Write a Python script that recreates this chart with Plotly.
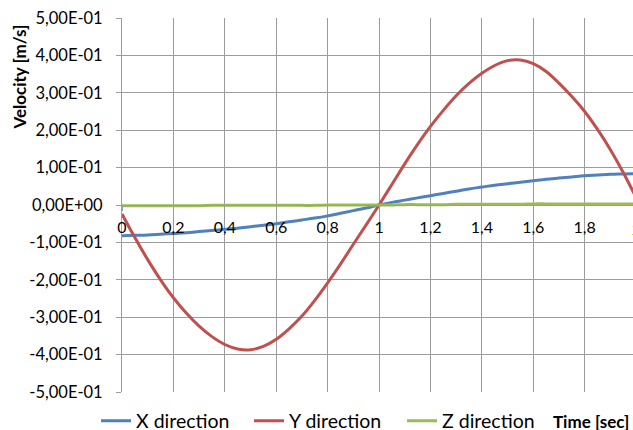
import plotly.graph_objects as go

time_s = [0.0, 0.05, 0.1, 0.15, 0.2, 0.25, 0.3, 0.35, 0.4, 0.45, 0.5, 0.55, 0.6, 0.65,
          0.7, 0.75, 0.8, 0.85, 0.9, 0.95, 1.0, 1.05, 1.1, 1.15, 1.2, 1.25, 1.3, 1.35,
          1.4, 1.45, 1.5, 1.55, 1.6, 1.65, 1.7, 1.75, 1.8, 1.85, 1.9, 1.95, 2.0]
x_dir = [-0.082, -0.081, -0.080, -0.078, -0.076, -0.074, -0.071, -0.068, -0.065, -0.062,
         -0.058, -0.054, -0.050, -0.045, -0.040, -0.035, -0.029, -0.022, -0.015, -0.008,
         0.000, 0.007, 0.013, 0.019, 0.025, 0.031, 0.037, 0.043, 0.048, 0.053,
         0.057, 0.061, 0.065, 0.069, 0.072, 0.075, 0.078, 0.080, 0.082, 0.083, 0.084]
y_dir = [-0.024, -0.087, -0.146, -0.200, -0.248, -0.289, -0.324, -0.352, -0.373, -0.385,
         -0.387, -0.378, -0.359, -0.331, -0.297, -0.255, -0.208, -0.158, -0.105, -0.053,
         0.000, 0.055, 0.110, 0.162, 0.210, 0.253, 0.292, 0.325, 0.352, 0.373,
         0.386, 0.388, 0.378, 0.357, 0.326, 0.290, 0.250, 0.202, 0.148, 0.087, 0.020]
z_dir = [-0.002, -0.002, -0.002, -0.002, -0.002, -0.002, -0.002, -0.001, -0.001, -0.001,
         -0.001, -0.001, -0.001, -0.001, -0.001, -0.001, 0.000, 0.000, 0.000, 0.000,
         0.000, 0.000, 0.001, 0.001, 0.001, 0.001, 0.002, 0.002, 0.002, 0.002,
         0.002, 0.002, 0.003, 0.003, 0.003, 0.003, 0.003, 0.003, 0.003, 0.003, 0.003]

y_tickvals = [0.5, 0.4, 0.3, 0.2, 0.1, 0.0, -0.1, -0.2, -0.3, -0.4, -0.5]
y_ticktext = ["5,00E-01", "4,00E-01", "3,00E-01", "2,00E-01", "1,00E-01", "0,00E+00",
              "-1,00E-01", "-2,00E-01", "-3,00E-01", "-4,00E-01", "-5,00E-01"]
x_tickvals = [0.0, 0.2, 0.4, 0.6, 0.8, 1.0, 1.2, 1.4, 1.6, 1.8]
x_ticktext = ["0", "0,2", "0,4", "0,6", "0,8", "1", "1,2", "1,4", "1,6", "1,8"]
x_last_tick = 2.0
x_last_label = "2"

series = [("X direction", x_dir, "#4f81bd"),
          ("Y direction", y_dir, "#c0504d"),
          ("Z direction", z_dir, "#9bbb59")]

FONT = "Lato"
GRID = "#9c9c9c"
PL, PT, PB, W, H = 122, 18, 392, 633, 430
PW, PH = W - PL, PB - PT
X_MAX = 1.988  # visible part of the 0..2 axis (right edge cut by the window)

fig = go.Figure()
for name, vals, col in series:
    fig.add_trace(go.Scatter(x=time_s, y=vals, name=name, mode="lines",
                             line=dict(color=col, width=3, shape="spline", smoothing=1.0)))

fig.update_layout(
    width=W, height=H,
    margin=dict(l=PL, r=0, t=PT, b=H - PB, autoexpand=False),
    paper_bgcolor="white", plot_bgcolor="white",
    font=dict(family=FONT, size=16, color="#000000"),
    showlegend=True,
    legend=dict(orientation="h", x=(96 - PL) / PW, xanchor="left",
                y=-29 / PH, yanchor="middle",
                font=dict(family=FONT, size=19.5, color="#000000"),
                entrywidth=108, itemwidth=30, bgcolor="rgba(0,0,0,0)"),
    xaxis=dict(range=[0, X_MAX], tickvals=x_tickvals, ticktext=x_ticktext,
               showgrid=True, gridcolor=GRID, gridwidth=1,
               showline=True, linecolor=GRID, linewidth=1,
               anchor="free", position=0.5, zeroline=False,
               ticks="outside", ticklen=5, tickcolor=GRID,
               tickfont=dict(family=FONT, size=16), ticklabelstandoff=3),
    yaxis=dict(range=[-0.5, 0.5], tickvals=y_tickvals, ticktext=y_ticktext,
               showgrid=True, gridcolor=GRID, gridwidth=1,
               showline=True, linecolor=GRID, linewidth=1, zeroline=False,
               ticks="outside", ticklen=5, tickcolor=GRID,
               tickfont=dict(family=FONT, size=16.5), ticklabelstandoff=10),
)

fig.add_annotation(x=x_last_tick / X_MAX, y=0.5, xref="paper", yref="paper",
                   text=x_last_label, showarrow=False, yshift=-23,
                   xanchor="center", yanchor="middle", font=dict(family=FONT, size=16))
fig.add_annotation(x=(19.5 - PL) / PW, y=(PB - 77) / PH, xref="paper", yref="paper",
                   xanchor="center", yanchor="middle",
                   text="<b>Velocity [m/s]</b>",
                   showarrow=False, textangle=-90, font=dict(family=FONT, size=17))
fig.add_annotation(x=(631 - PL) / PW, y=-29 / PH, xref="paper", yref="paper",
                   text="<b>Time [sec]</b>",
                   showarrow=False, xanchor="right", yanchor="middle",
                   font=dict(family=FONT, size=17))

fig.write_html("out.html", config={"displayModeBar": False},
               post_script="document.body.style.margin='0';document.body.style.overflow='hidden';")
